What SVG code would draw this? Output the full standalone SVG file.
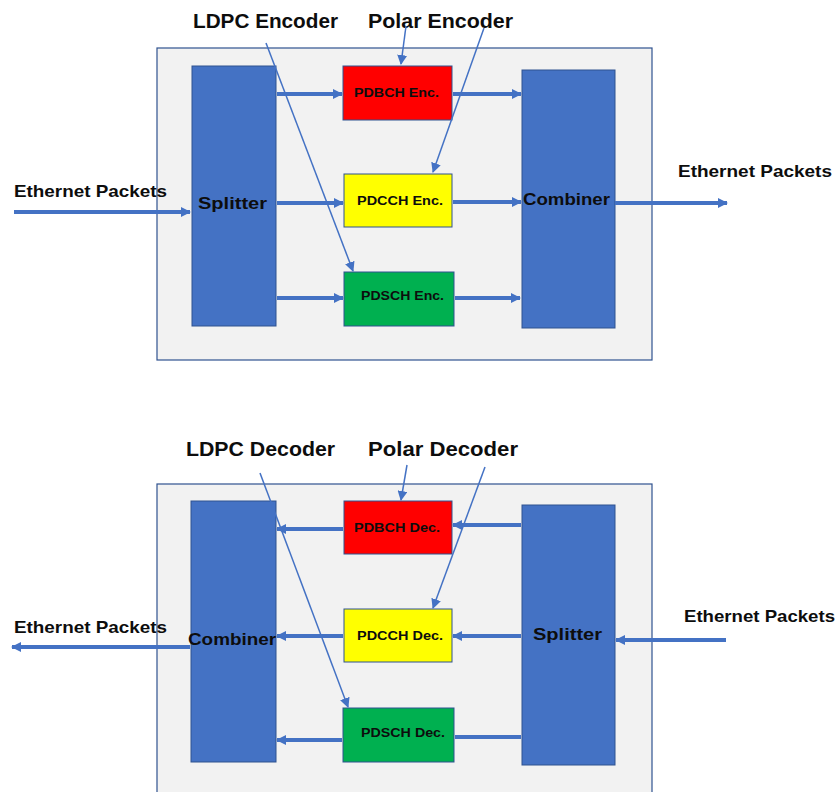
<svg xmlns="http://www.w3.org/2000/svg" width="838" height="792" viewBox="0 0 838 792">
  <style>
    .panel { fill: #F2F2F2; stroke: #2F528F; stroke-width: 1.2; }
    .blk { fill: #4472C4; stroke: #2F528F; stroke-width: 1; }
    .enc { stroke: #2F528F; stroke-width: 1; }
    .red { fill: #FF0000; }
    .yel { fill: #FFFF00; }
    .grn { fill: #00B050; }
    .flow { stroke: #4472C4; stroke-width: 4; fill: none; }
    .thin { stroke: #4472C4; stroke-width: 1.5; fill: none; }
    .t { font-family: "Liberation Sans", Arial, sans-serif; font-weight: bold; fill: #0d0d0d; }
    .hdr { font-size: 21px; }
    .lbl { font-size: 17px; }
    .box { font-size: 13px; }
  </style>
  <defs>
    <marker id="ah" viewBox="0 0 10 10" refX="9" refY="5" markerWidth="10" markerHeight="10" markerUnits="userSpaceOnUse" orient="auto">
      <path d="M0,0 L10,5 L0,10 z" fill="#4472C4"/>
    </marker>
    <marker id="ahs" viewBox="0 0 10 10" refX="9" refY="5" markerWidth="10" markerHeight="10" markerUnits="userSpaceOnUse" orient="auto">
      <path d="M0,0 L10,5 L0,10 z" fill="#4472C4"/>
    </marker>
  </defs>

  <!-- Encoder chain -->
  <g id="enc-panel"><rect class="panel" x="157" y="48" width="495" height="312"/></g>
  <g id="enc-splitter">
    <rect class="blk" x="192" y="66" width="84" height="260"/>
    <text class="t lbl" x="198" y="209" textLength="69" lengthAdjust="spacingAndGlyphs">Splitter</text>
  </g>
  <g id="enc-combiner">
    <rect class="blk" x="522" y="70" width="93" height="258"/>
    <text class="t lbl" x="523" y="205" textLength="87" lengthAdjust="spacingAndGlyphs">Combiner</text>
  </g>
  <g id="pdbch-enc">
    <rect class="enc red" x="343" y="66" width="109" height="54"/>
    <text class="t box" x="354" y="97" textLength="85" lengthAdjust="spacingAndGlyphs">PDBCH Enc.</text>
  </g>
  <g id="pdcch-enc">
    <rect class="enc yel" x="344" y="174" width="108" height="53"/>
    <text class="t box" x="357" y="205" textLength="86" lengthAdjust="spacingAndGlyphs">PDCCH Enc.</text>
  </g>
  <g id="pdsch-enc">
    <rect class="enc grn" x="344" y="272" width="110" height="54"/>
    <text class="t box" x="361" y="300" textLength="83" lengthAdjust="spacingAndGlyphs">PDSCH Enc.</text>
  </g>
  <g id="enc-labels">
    <text class="t hdr" x="193" y="28" textLength="145" lengthAdjust="spacingAndGlyphs">LDPC Encoder</text>
    <text class="t hdr" x="368" y="28" textLength="145" lengthAdjust="spacingAndGlyphs">Polar Encoder</text>
    <text class="t lbl" x="14" y="197" textLength="153" lengthAdjust="spacingAndGlyphs">Ethernet Packets</text>
    <text class="t lbl" x="678" y="177" textLength="154" lengthAdjust="spacingAndGlyphs">Ethernet Packets</text>
  </g>

  <!-- Decoder chain -->
  <g id="dec-panel"><rect class="panel" x="157" y="484" width="495" height="320"/></g>
  <g id="dec-combiner">
    <rect class="blk" x="191" y="501" width="85" height="261"/>
    <text class="t lbl" x="188" y="645" textLength="88" lengthAdjust="spacingAndGlyphs">Combiner</text>
  </g>
  <g id="dec-splitter">
    <rect class="blk" x="522" y="505" width="93" height="260"/>
    <text class="t lbl" x="533" y="640" textLength="69" lengthAdjust="spacingAndGlyphs">Splitter</text>
  </g>
  <g id="pdbch-dec">
    <rect class="enc red" x="344" y="501" width="108" height="53"/>
    <text class="t box" x="354" y="532" textLength="86" lengthAdjust="spacingAndGlyphs">PDBCH Dec.</text>
  </g>
  <g id="pdcch-dec">
    <rect class="enc yel" x="344" y="609" width="108" height="53"/>
    <text class="t box" x="357" y="640" textLength="86" lengthAdjust="spacingAndGlyphs">PDCCH Dec.</text>
  </g>
  <g id="pdsch-dec">
    <rect class="enc grn" x="343" y="708" width="111" height="54"/>
    <text class="t box" x="361" y="737" textLength="84" lengthAdjust="spacingAndGlyphs">PDSCH Dec.</text>
  </g>
  <g id="dec-labels">
    <text class="t hdr" x="186" y="456" textLength="149" lengthAdjust="spacingAndGlyphs">LDPC Decoder</text>
    <text class="t hdr" x="368" y="456" textLength="150" lengthAdjust="spacingAndGlyphs">Polar Decoder</text>
    <text class="t lbl" x="14" y="633" textLength="153" lengthAdjust="spacingAndGlyphs">Ethernet Packets</text>
    <text class="t lbl" x="684" y="622" textLength="151" lengthAdjust="spacingAndGlyphs">Ethernet Packets</text>
  </g>

  <g id="connectors">
    <!-- encoder data paths -->
    <line class="flow" x1="14" y1="212" x2="190" y2="212" marker-end="url(#ah)"/>
    <line class="flow" x1="277" y1="94" x2="342" y2="94" marker-end="url(#ah)"/>
    <line class="flow" x1="453" y1="94" x2="521" y2="94" marker-end="url(#ah)"/>
    <line class="flow" x1="277" y1="203" x2="343" y2="203" marker-end="url(#ah)"/>
    <line class="flow" x1="453" y1="202" x2="521" y2="202" marker-end="url(#ah)"/>
    <line class="flow" x1="277" y1="298" x2="343" y2="298" marker-end="url(#ah)"/>
    <line class="flow" x1="455" y1="298" x2="520" y2="298" marker-end="url(#ah)"/>
    <line class="flow" x1="615" y1="203" x2="727" y2="203" marker-end="url(#ah)"/>
    <!-- encoder callouts -->
    <line class="thin" x1="266" y1="43" x2="353" y2="271" marker-end="url(#ahs)"/>
    <line class="thin" x1="406" y1="26" x2="401" y2="64" marker-end="url(#ahs)"/>
    <line class="thin" x1="484" y1="28" x2="433" y2="172" marker-end="url(#ahs)"/>

    <!-- decoder data paths -->
    <line class="flow" x1="521" y1="525" x2="453" y2="525" marker-end="url(#ah)"/>
    <line class="flow" x1="343" y1="529" x2="277" y2="529" marker-end="url(#ah)"/>
    <line class="flow" x1="521" y1="636" x2="453" y2="636" marker-end="url(#ah)"/>
    <line class="flow" x1="343" y1="636" x2="277" y2="636" marker-end="url(#ah)"/>
    <line class="flow" x1="521" y1="737" x2="455" y2="737"/>
    <line class="flow" x1="342" y1="740" x2="277" y2="740" marker-end="url(#ah)"/>
    <line class="flow" x1="190" y1="647" x2="12" y2="647" marker-end="url(#ah)"/>
    <line class="flow" x1="726" y1="640" x2="616" y2="640" marker-end="url(#ah)"/>
    <!-- decoder callouts -->
    <line class="thin" x1="260" y1="473" x2="348" y2="707" marker-end="url(#ahs)"/>
    <line class="thin" x1="407" y1="465" x2="401" y2="500" marker-end="url(#ahs)"/>
    <line class="thin" x1="485" y1="467" x2="433" y2="608" marker-end="url(#ahs)"/>
  </g>
</svg>
